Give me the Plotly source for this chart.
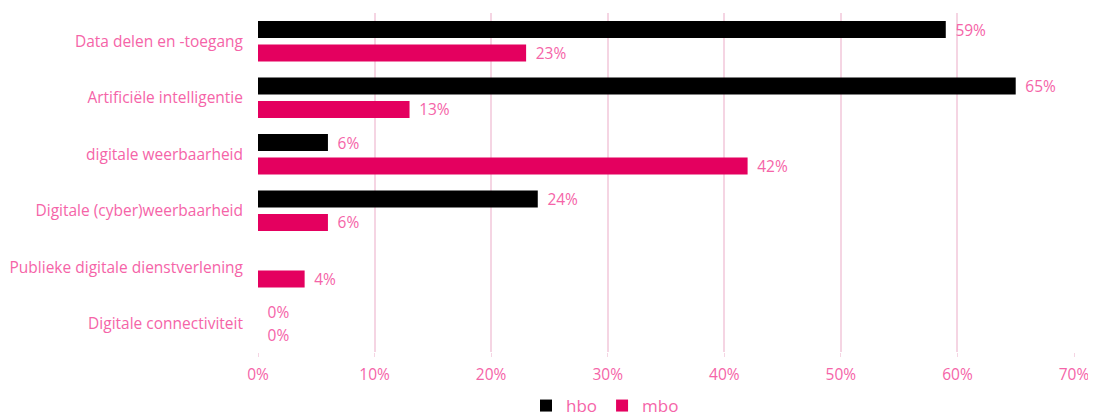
import plotly.graph_objects as go

categories = [
    "Data delen en -toegang",
    "Artificiële intelligentie",
    "digitale weerbaarheid",
    "Digitale (cyber)weerbaarheid",
    "Publieke digitale dienstverlening",
    "Digitale connectiviteit",
]
hbo = [59, 65, 6, 24, None, 0]
mbo = [23, 13, 42, 6, 4, 0]
x_ticks = [0, 10, 20, 30, 40, 50, 60, 70]
x_tick_labels = ["0%", "10%", "20%", "30%", "40%", "50%", "60%", "70%"]

PINK_TEXT = "#f564a8"
MAGENTA = "#e4005f"
GRID = "#f5d5e3"
FONT = "Open Sans"

# the page body has an 8px default margin; offsets below compensate for it
OFF = 8

fig = go.Figure()
for name, vals, color in [("hbo", hbo, "#000000"), ("mbo", mbo, MAGENTA)]:
    fig.add_trace(go.Bar(
        name=name,
        y=categories,
        x=vals,
        orientation="h",
        marker=dict(color=color, line=dict(width=0)),
        text=[("\u00a0\u2009" + f"{v}%" if v is not None else "") for v in vals],
        textposition="outside",
        constraintext="none",
        cliponaxis=False,
        textfont=dict(color=PINK_TEXT, size=15.5, family=FONT),
    ))

W, H = 1096, 416
fig.update_layout(
    width=W,
    height=H,
    margin=dict(l=258 - OFF, r=W - (1074 - OFF), t=13 - OFF, b=H - (352 - OFF)),
    barmode="group",
    bargap=0.17,
    bargroupgap=0.28,
    plot_bgcolor="white",
    paper_bgcolor="white",
    font=dict(family=FONT, color=PINK_TEXT, size=15),
    showlegend=True,
    legend=dict(
        orientation="h",
        xref="container",
        yref="container",
        x=(526 - OFF) / W,
        xanchor="left",
        y=1 - (406 - OFF) / H,
        yanchor="middle",
        font=dict(size=17, color=PINK_TEXT, family=FONT),
        traceorder="normal",
        bgcolor="rgba(0,0,0,0)",
    ),
    xaxis=dict(
        range=[0, 70],
        tickvals=x_ticks,
        ticktext=x_tick_labels,
        showgrid=True,
        gridcolor=GRID,
        gridwidth=1.5,
        zeroline=False,
        showline=False,
        ticks="outside",
        ticklen=4,
        tickcolor=GRID,
        ticklabelstandoff=4,
        tickfont=dict(color=PINK_TEXT, size=15.5),
        automargin=False,
    ),
    yaxis=dict(
        autorange="reversed",
        showgrid=False,
        showline=False,
        zeroline=False,
        ticks="",
        ticklabelstandoff=14,
        tickfont=dict(color=PINK_TEXT, size=15.5),
        automargin=False,
    ),
)

fig.write_html("out.html")
